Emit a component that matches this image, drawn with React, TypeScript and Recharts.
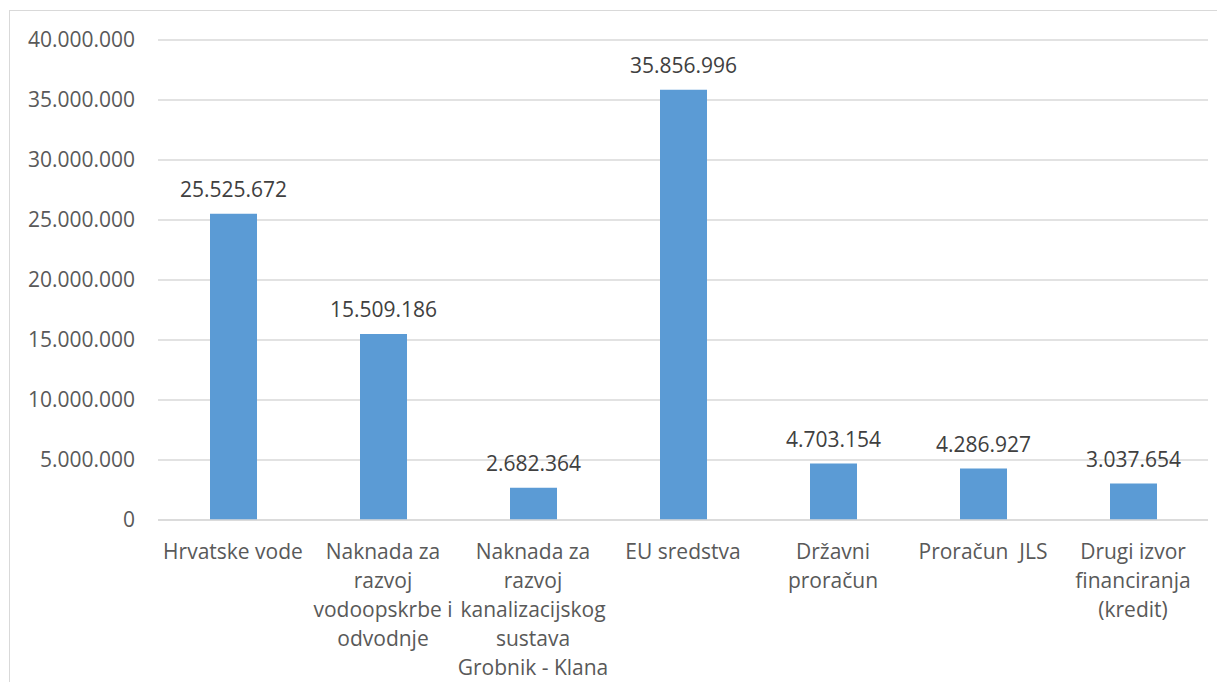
import React from 'react';
import { BarChart, Bar, XAxis, YAxis, CartesianGrid, LabelList } from 'recharts';

const categories = [
  'Hrvatske vode',
  'Naknada za\nrazvoj\nvodoopskrbe i\nodvodnje',
  'Naknada za\nrazvoj\nkanalizacijskog\nsustava\nGrobnik - Klana',
  'EU sredstva',
  'Državni\nproračun',
  'Proračun  JLS',
  'Drugi izvor\nfinanciranja\n(kredit)',
];
const values = [25525672, 15509186, 2682364, 35856996, 4703154, 4286927, 3037654];
const yTicks = [0, 5000000, 10000000, 15000000, 20000000, 25000000, 30000000, 35000000, 40000000];

const data = categories.map((name, i) => ({ name, value: values[i] }));

const FONT = '"Open Sans", sans-serif';

const fmt = (v: number) => String(Math.round(v)).replace(/\B(?=(\d{3})+(?!\d))/g, '.');

const CategoryTick = (props: any) => {
  const { x, y, payload } = props;
  const lines = String(payload.value).split('\n');
  return (
    <text x={x} y={y + 39} textAnchor="middle" fill="#595959" fontSize={21} fontFamily={FONT}>
      {lines.map((l, i) => (
        <tspan key={i} x={x} dy={i === 0 ? 0 : 29} style={{ whiteSpace: 'pre' }}>
          {l}
        </tspan>
      ))}
    </text>
  );
};

export default function App() {
  return (
    <div style={{ position: 'relative', width: 1225, height: 690, overflow: 'hidden', margin: -8, background: '#fff' }}>
      <div
        style={{
          position: 'absolute',
          left: 9,
          top: 10,
          width: 1400,
          height: 900,
          border: '1px solid #d9d9d9',
        }}
      />
      <div style={{ position: 'absolute', left: 0, top: 0 }}>
        <BarChart width={1225} height={690} data={data} margin={{ top: 40, right: 17, bottom: 0, left: 0 }}>
          <CartesianGrid vertical={false} stroke="#d9d9d9" strokeWidth={1.5} />
          <XAxis
            dataKey="name"
            interval={0}
            tickLine={false}
            axisLine={{ stroke: '#d9d9d9', strokeWidth: 1.5 }}
            tickSize={0}
            tickMargin={0}
            tick={<CategoryTick />}
            height={170}
          />
          <YAxis
            width={158}
            domain={[0, 40000000]}
            ticks={yTicks}
            tickFormatter={fmt}
            axisLine={false}
            tickLine={false}
            tickSize={0}
            tickMargin={23}
            tick={{ fill: '#595959', fontSize: 21, fontFamily: FONT }}
          />
          <Bar dataKey="value" fill="#5b9bd5" barSize={47} isAnimationActive={false}>
            <LabelList
              dataKey="value"
              position="top"
              offset={17}
              formatter={(v: any) => fmt(Number(v))}
              fill="#404040"
              fontSize={21}
              fontFamily={FONT}
            />
          </Bar>
        </BarChart>
      </div>
    </div>
  );
}
